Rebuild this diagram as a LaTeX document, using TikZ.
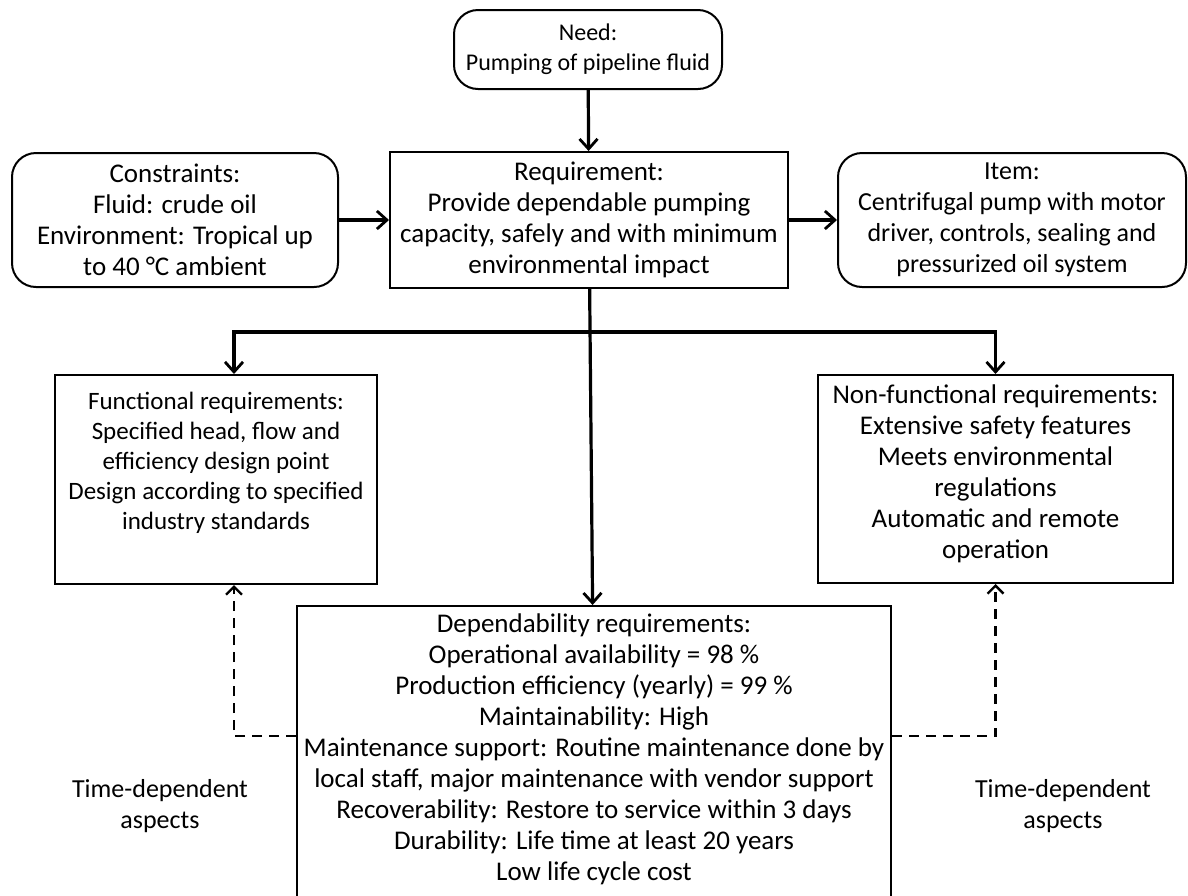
\documentclass[tikz,border=0pt]{standalone}
\usepackage{fontspec}
\setmainfont{Carlito}
\usetikzlibrary{arrows.meta}
\tikzset{
  box/.style={draw=black,line width=1pt,align=center,inner sep=0pt,
    font=\fontsize{13.5}{15.5}\selectfont},
  roundbox/.style={box,rounded corners=12pt},
  boxtext/.style={anchor=north,align=center,inner sep=0pt,
    font=\fontsize{13.5}{15.5}\selectfont},
  flow/.style={line width=1.6pt,-{Straight Barb[length=5pt,width=9pt,line width=1.4pt]}},
  timeflow/.style={line width=1.2pt,dash pattern=on 5pt off 3.5pt,
    -{Straight Barb[length=4pt,width=8pt,line width=1.2pt]}},
  aspect/.style={align=center,font=\fontsize{13}{15.5}\selectfont}
}
\begin{document}
\begin{tikzpicture}[x=0.5pt,y=-0.5pt]
  \useasboundingbox (0,0) rectangle (1188,895);
  % top row
  \node[roundbox,font=\fontsize{12}{15}\selectfont,minimum width=134pt,minimum height=39.5pt] (need) at (588,49.5) {Need:\\Pumping of pipeline fluid};
  \node[box,minimum width=199pt,minimum height=68pt] (req) at (589,220) {Requirement:\\Provide dependable pumping\\capacity, safely and with minimum\\environmental impact};
  \node[roundbox,minimum width=163pt,minimum height=67pt] (cons) at (175,220) {Constraints:\\Fluid: crude oil\\Environment: Tropical up\\to 40 °C ambient};
  \node[roundbox,font=\fontsize{13}{15.5}\selectfont,minimum width=174pt,minimum height=67pt] (item) at (1012,220) {Item:\\Centrifugal pump with motor\\driver, controls, sealing and\\pressurized oil system};
  % requirement groups, text set from the top
  \node[box,minimum width=161pt,minimum height=104.5pt] (func) at (216,479.5) {};
  \node[boxtext,font=\fontsize{12.5}{15}\selectfont] (functxt) at ([yshift=-9pt]func.north) {Functional requirements:\\Specified head, flow and\\efficiency design point\\Design according to specified\\industry standards};
  \node[box,minimum width=177.5pt,minimum height=104pt] (nonf) at (995.5,479) {};
  \node[boxtext] (nonftxt) at ([yshift=-5pt]nonf.north) {Non-functional requirements:\\Extensive safety features\\Meets environmental\\regulations\\Automatic and remote\\operation};
  \node[box,minimum width=297pt,minimum height=150pt] (dep) at (594,756) {};
  \node[boxtext] (deptxt) at ([yshift=-4pt]dep.north) {Dependability requirements:\\Operational availability = 98 \%\\Production efficiency (yearly) = 99 \%\\Maintainability: High\\Maintenance support: Routine maintenance done by\\local staff, major maintenance with vendor support\\Recoverability: Restore to service within 3 days\\Durability: Life time at least 20 years\\Low life cycle cost};
  \node[aspect] (aspl) at (160,806) {Time-dependent\\aspects};
  \node[aspect] (aspr) at (1063,806) {Time-dependent\\aspects};
  % connectors
  \coordinate (fork) at (589,332);
  \draw[flow] (need) -- (req);
  \draw[flow] (cons) -- (req);
  \draw[flow] (req) -- (item);
  \draw[flow] (req) -- (dep);
  \draw[flow] (fork) -| ([xshift=9pt]func.north);
  \draw[flow] (fork) -| (nonf.north);
  \draw[timeflow] ([yshift=10pt]dep.west) -| ([xshift=9pt]func.south);
  \draw[timeflow] ([yshift=10pt]dep.east) -| (nonf.south);
\end{tikzpicture}
\end{document}
